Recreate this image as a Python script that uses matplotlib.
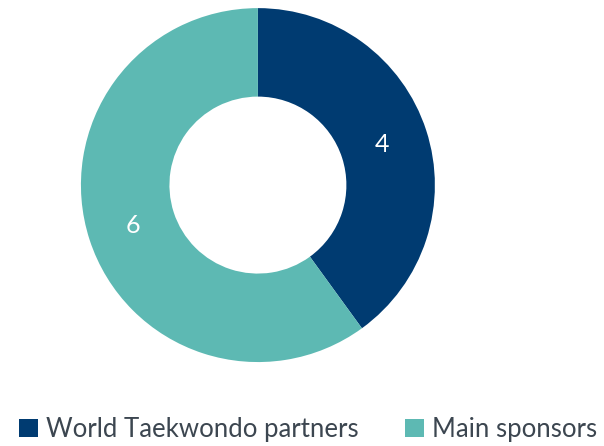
import matplotlib.pyplot as plt
from matplotlib.patches import Patch

categories = ["World Taekwondo partners", "Main sponsors"]
values = [4, 6]
colors = ["#003B71", "#5DB9B3"]

plt.rcParams["font.family"] = ["Lato", "DejaVu Sans"]

fig = plt.figure(figsize=(6.04, 4.46), dpi=100)
ax = fig.add_axes([0.134, 0.188, 0.586, 0.794])

wedges, texts = ax.pie(
    values,
    labels=[str(v) for v in values],
    colors=colors,
    startangle=90,
    counterclock=False,
    radius=1,
    labeldistance=0.74,
    wedgeprops={"width": 0.5, "linewidth": 0},
    textprops={"color": "white", "fontsize": 18, "ha": "center", "va": "center"},
)
ax.set_xlim(-1, 1)
ax.set_ylim(-1, 1)
ax.set_aspect("equal")

handles = [Patch(facecolor=c, edgecolor="none") for c in colors]
fig.legend(
    handles,
    categories,
    loc="center",
    bbox_to_anchor=(0.51, 0.037),
    ncol=2,
    frameon=False,
    prop={"size": 18.5},
    labelcolor="#3C4650",
    handlelength=0.75,
    handleheight=0.75,
    handletextpad=0.3,
    columnspacing=1.8,
    borderpad=0,
    borderaxespad=0,
)

fig.savefig("out.png", dpi=100)
